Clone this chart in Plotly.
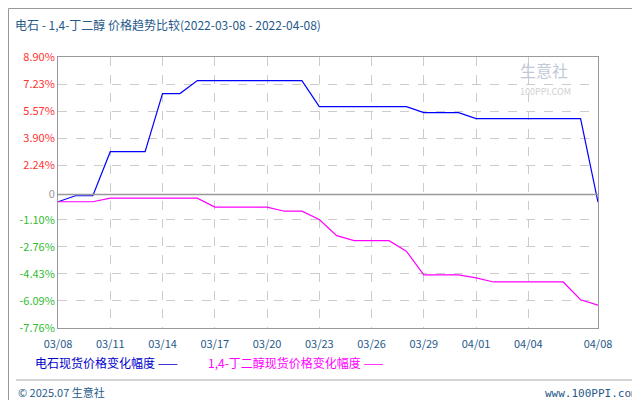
import plotly.graph_objects as go
import pandas as pd

dates = pd.date_range("2022-03-08", "2022-04-08", freq="D")
carbide = [0, 0.37, 0.37, 3.08, 3.08, 3.08, 6.65, 6.65, 7.45, 7.45, 7.45, 7.45, 7.45, 7.45, 7.45,
           5.85, 5.85, 5.85, 5.85, 5.85, 5.85, 5.48, 5.48, 5.48, 5.11, 5.11, 5.11, 5.11, 5.11, 5.11, 5.11, -0.02]
bdo = [0, 0, 0, 0.22, 0.22, 0.22, 0.22, 0.22, 0.22, -0.33, -0.33, -0.33, -0.33, -0.58, -0.58,
       -1.09, -2.08, -2.39, -2.39, -2.39, -3.04, -4.50, -4.50, -4.50, -4.68, -4.93, -4.93, -4.93, -4.93, -4.93, -6.02, -6.36]
x_ticks = ["2022-03-08", "2022-03-11", "2022-03-14", "2022-03-17", "2022-03-20", "2022-03-23",
           "2022-03-26", "2022-03-29", "2022-04-01", "2022-04-04", "2022-04-08"]
x_labels = ["03/08", "03/11", "03/14", "03/17", "03/20", "03/23", "03/26", "03/29", "04/01", "04/04", "04/08"]
y_ticks = [8.90, 7.23, 5.57, 3.90, 2.24, 0.45, -1.10, -2.76, -4.43, -6.09, -7.76]
y_labels = ["8.90%", "7.23%", "5.57%", "3.90%", "2.24%", "0", "-1.10%", "-2.76%", "-4.43%", "-6.09%", "-7.76%"]

def col(t):
    if t == "0":
        return "#999999"
    return "#ff3333" if not t.startswith("-") else "#33bb33"

fig = go.Figure()
fig.add_trace(go.Scatter(x=dates, y=carbide, mode="lines", line=dict(color="#0000ff", width=1.2), showlegend=False))
fig.add_trace(go.Scatter(x=dates, y=bdo, mode="lines", line=dict(color="#ff00ff", width=1.2), showlegend=False))

fig.add_shape(type="line", xref="paper", x0=0, x1=1, yref="y", y0=0.45, y1=0.45, line=dict(color="#999999", width=1.5))

font = "Noto Sans CJK SC"
fig.update_layout(
    width=640, height=400, margin=dict(l=50, r=50, t=49, b=80),
    paper_bgcolor="white", plot_bgcolor="white",
    font=dict(family=font, size=11),
    xaxis=dict(type="date", range=["2022-03-08", "2022-04-08"], tickvals=x_ticks, ticktext=x_labels,
               showgrid=True, gridcolor="#cccccc", griddash="dash", showline=True, linecolor="#999999",
               mirror=True, tickfont=dict(color="#1f5a8a", size=11), ticks="", ticklabelstandoff=6),
    yaxis=dict(range=[-7.76, 8.90], tickvals=y_ticks,
               ticktext=[f"<span style='color:{col(t)}'>{t}</span>" for t in y_labels],
               showgrid=True, gridcolor="#cccccc", griddash="dash", zeroline=False, showline=True,
               linecolor="#999999", mirror=True, tickfont=dict(size=11), ticks=""),
)

def px(x): return (x - 50) / 540
def py(y): return (320 - y) / 271

texts = [
    (5, 16, "电石 - 1,4-丁二醇 价格趋势比较(2022-03-08 - 2022-04-08)", "#1f5a8a", 12, "left", font),
    (25, 354, "电石现货价格变化幅度 —— ", "#0000cc", 12, "left", font),
    (198, 354, "1,4-丁二醇现货价格变化幅度 —— ", "#ff00ff", 12, "left", font),
    (8, 384, "© 2025.07 生意社", "#1f5a8a", 11, "left", font),
    (632, 385, "www.100PPI.com", "#1f5a8a", 11, "right", "DejaVu Sans Mono"),
    (510, 62, "生意社", "#c0c8d8", 16, "left", font),
    (510, 83, "100PPI.COM", "#d0d0d0", 9, "left", font),
]
for x, y, t, c, s, anc, f in texts:
    fig.add_annotation(xref="paper", yref="paper", x=px(x), y=py(y), text=t, showarrow=False,
                       xanchor=anc, yanchor="middle", font=dict(color=c, size=s, family=f))
fig.add_shape(type="line", xref="paper", yref="paper", x0=px(8), x1=px(632), y0=py(372), y1=py(372),
              line=dict(color="#aaaaaa", width=1))
fig.add_shape(type="rect", xref="paper", yref="paper", x0=px(0.5), x1=px(639.5), y0=py(0.5), y1=py(399.5),
              line=dict(color="#999999", width=1))
fig.write_html("out.html")
